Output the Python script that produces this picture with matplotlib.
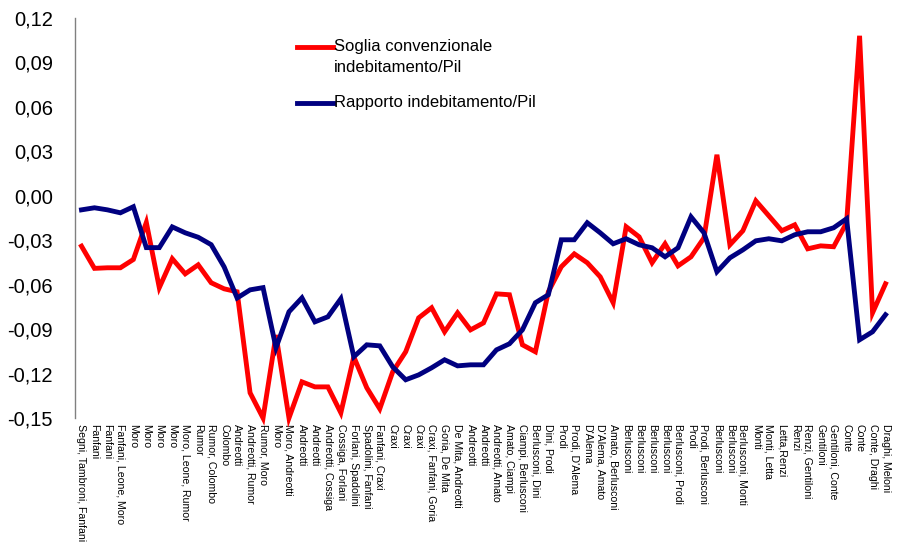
import matplotlib
matplotlib.use("Agg")
import matplotlib.pyplot as plt
from matplotlib.lines import Line2D
from matplotlib.ticker import FuncFormatter, MultipleLocator

plt.rcParams["font.family"] = ["Liberation Sans", "DejaVu Sans"]

RED = "#FF0000"
NAVY = "#000080"

governi = [
    "Segni, Tambroni, Fanfani", "Fanfani", "Fanfani", "Fanfani, Leone, Moro",
    "Moro", "Moro", "Moro", "Moro", "Moro, Leone, Rumor", "Rumor",
    "Rumor, Colombo", "Colombo", "Andreotti", "Andreotti, Rumor", "Rumor, Moro",
    "Moro", "Moro, Andreotti", "Andreotti", "Andreotti", "Andreotti, Cossiga",
    "Cossiga, Forlani", "Forlani, Spadolini", "Spadolini, Fanfani", "Fanfani, Craxi",
    "Craxi", "Craxi", "Craxi", "Craxi, Fanfani, Goria", "Goria, De Mita",
    "De Mita, Andreotti", "Andreotti", "Andreotti", "Andreotti, Amato",
    "Amato, Ciampi", "Ciampi, Berlusconi", "Berlusconi, Dini", "Dini, Prodi",
    "Prodi", "Prodi, D'Alema", "D'Alema", "D'Alema, Amato", "Amato, Berlusconi",
    "Berlusconi", "Berlusconi", "Berlusconi", "Berlusconi", "Berlusconi, Prodi",
    "Prodi", "Prodi, Berlusconi", "Berlusconi", "Berlusconi", "Berlusconi, Monti",
    "Monti", "Monti, Letta", "Letta,Renzi", "Renzi", "Renzi, Gentiloni",
    "Gentiloni", "Gentiloni, Conte", "Conte", "Conte", "Conte, Draghi",
    "Draghi, Meloni",
]

# soglia convenzionale indebitamento/Pil
soglia = [
    -0.034, -0.049, -0.0486, -0.0486, -0.043, -0.018, -0.062, -0.0425, -0.0527, -0.0466,
    -0.0587, -0.0628, -0.0648, -0.133, -0.150, -0.094, -0.150, -0.1256, -0.129, -0.129,
    -0.1465, -0.1087, -0.1296, -0.1438, -0.1188, -0.1053, -0.0824, -0.0756, -0.0918, -0.079,
    -0.0905, -0.0858, -0.0662, -0.0668, -0.1006, -0.1053, -0.0648, -0.0479, -0.0392, -0.0452,
    -0.0547, -0.0722, -0.0209, -0.0277, -0.0452, -0.0324, -0.0473, -0.0412, -0.0284, 0.0277,
    -0.0331, -0.0236, -0.0034, -0.0135, -0.0236, -0.0196, -0.0358, -0.0338, -0.0344, -0.0182,
    0.108, -0.079, -0.0594,
]

# rapporto indebitamento/Pil
rapporto = [
    -0.0095, -0.0081, -0.0095, -0.0115, -0.0074, -0.035, -0.035, -0.021, -0.025, -0.028,
    -0.033, -0.048, -0.069, -0.0635, -0.062, -0.1026, -0.0783, -0.0689, -0.0851, -0.0817,
    -0.0695, -0.1087, -0.1006, -0.1013, -0.1155, -0.1242, -0.1209, -0.1161, -0.1107, -0.1148,
    -0.1141, -0.1141, -0.104, -0.0999, -0.0905, -0.0722, -0.0668, -0.0297, -0.0297, -0.0182,
    -0.025, -0.0324, -0.029, -0.0331, -0.0351, -0.0412, -0.0351, -0.0142, -0.025, -0.0513,
    -0.0419, -0.0365, -0.0304, -0.029, -0.0304, -0.0263, -0.0243, -0.0243, -0.0216, -0.0155,
    -0.0972, -0.0918, -0.0803,
]

W, H = 897, 553
fig = plt.figure(figsize=(W / 100, H / 100), dpi=100)
fig.patch.set_facecolor("white")


def fx(px):
    return px / W


def fy(py):
    return 1 - py / H


ax = fig.add_axes([fx(75), fy(418), fx(892) - fx(75), fy(18) - fy(418)])

x = range(len(governi))
ax.plot(x, soglia, color=RED, lw=3.5, solid_joinstyle="miter", clip_on=False, zorder=3)
ax.plot(x, rapporto, color=NAVY, lw=3.5, solid_joinstyle="miter", clip_on=False, zorder=4)

ax.set_xlim(-0.5, len(governi) - 0.5)
ax.set_ylim(-0.15, 0.12)
ax.yaxis.set_major_locator(MultipleLocator(0.03))
ax.yaxis.set_major_formatter(FuncFormatter(lambda v, _: f"{v:.2f}".replace(".", ",")))
ax.tick_params(axis="y", length=0, pad=16, labelsize=14.5)

ax.set_xticks(list(x))
ax.set_xticklabels(governi, rotation=-90, fontsize=7.6, ha="center", va="top")
ax.tick_params(axis="x", length=0, pad=4)

for s in ["top", "right", "bottom"]:
    ax.spines[s].set_visible(False)
ax.spines["left"].set_color("#808080")
ax.spines["left"].set_linewidth(1.0)

# legenda disegnata a mano
fig.add_artist(Line2D([fx(297), fx(333)], [fy(47), fy(47)], color=RED, lw=3.5,
                      transform=fig.transFigure))
fig.text(fx(334), fy(47), "Soglia convenzionale", fontsize=12, va="center", ha="left")
fig.text(fx(334), fy(68), "indebitamento/Pil", fontsize=12, va="center", ha="left")
fig.add_artist(Line2D([fx(297), fx(333)], [fy(103), fy(103)], color=NAVY, lw=3.5,
                      transform=fig.transFigure))
fig.text(fx(334), fy(103), "Rapporto indebitamento/Pil", fontsize=12, va="center", ha="left")

fig.savefig("out.png", dpi=100, facecolor="white")
